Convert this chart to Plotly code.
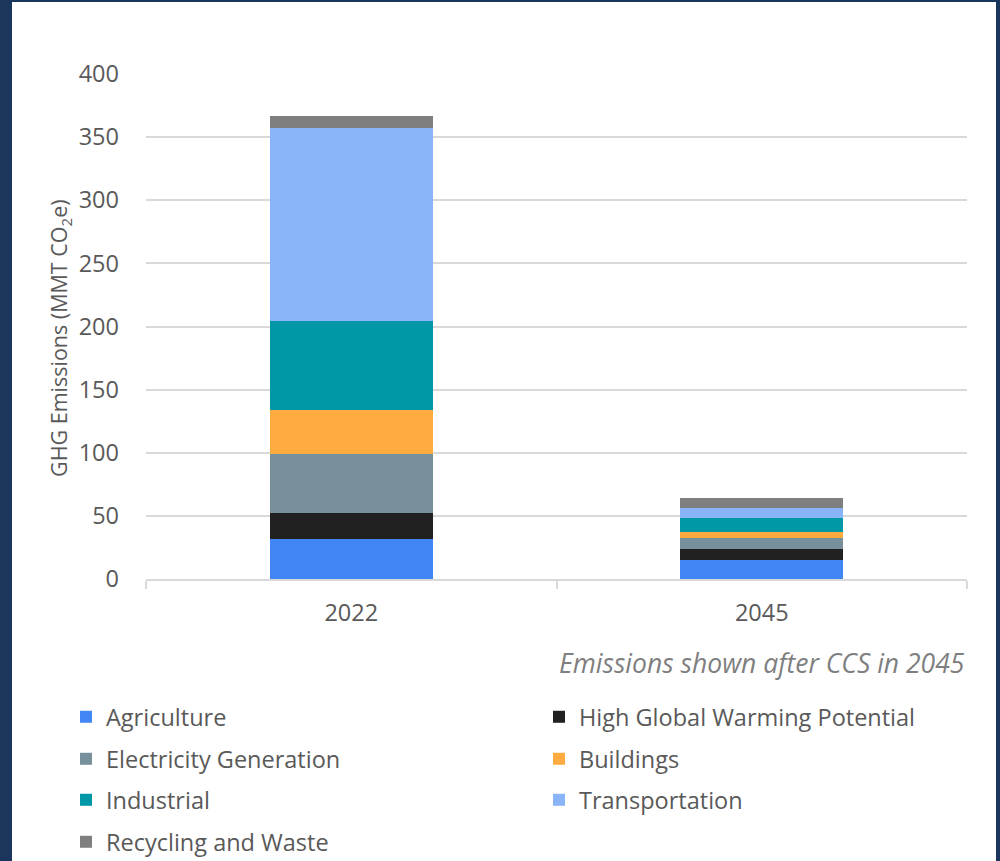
import plotly.graph_objects as go

categories = ["2022", "2045"]
agriculture = [32, 15]
high_gwp = [20, 8.8]
electricity = [47, 8.7]
buildings = [35, 4.5]
industrial = [70, 11.3]
transportation = [153, 8]
recycling = [10, 8.2]

series = [
    ("Agriculture", agriculture, "#4285F4"),
    ("High Global Warming Potential", high_gwp, "#212121"),
    ("Electricity Generation", electricity, "#78909C"),
    ("Buildings", buildings, "#FFAB40"),
    ("Industrial", industrial, "#0097A7"),
    ("Transportation", transportation, "#8AB4F8"),
    ("Recycling and Waste", recycling, "#7F7F7F"),
]

FONT = "Open Sans"
GREY = "#595959"

L, R, T, B = 146, 967, 74, 579
W, H = 1000, 861
pw, ph = R - L, B - T

def px(x):
    return (x - L) / pw

def py(y):
    return (B - y) / ph

def cy(y):
    return 1 - y / H

# legend grid: two columns, four rows (pixel positions of the legend boxes)
col_x = [66, 539]
row_y = [717, 759, 800, 842]

fig = go.Figure()
legends = {}
for i, (name, vals, color) in enumerate(series):
    key = "legend" if i == 0 else f"legend{i + 1}"
    fig.add_trace(go.Bar(x=categories, y=vals, name=name, showlegend=True,
                         marker=dict(color=color, line=dict(width=0)), legend=key))
    legends[key] = dict(xref="container", yref="container", xanchor="left", yanchor="middle",
                        x=col_x[i % 2] / W, y=cy(row_y[i // 2]), visible=True,
                        font=dict(family=FONT, size=23.5, color=GREY), bgcolor="rgba(0,0,0,0)",
                        borderwidth=0)

fig.update_layout(
    width=W, height=H,
    showlegend=True,
    margin=dict(l=L, r=W - R, t=T, b=H - B, pad=0, autoexpand=False),
    paper_bgcolor="#1b365d",
    plot_bgcolor="white",
    barmode="stack",
    bargap=0.603,
    font=dict(family=FONT, size=23, color=GREY),
    xaxis=dict(type="category", showline=True, linecolor="#d9d9d9", linewidth=1.5,
               ticks="outside", tickson="boundaries", ticklen=8, tickcolor="#d9d9d9", tickwidth=1.5,
               tickfont=dict(family=FONT, size=23.5, color=GREY), showgrid=False,
               ticklabelstandoff=12),
    yaxis=dict(range=[0, 400], dtick=50, showgrid=True, gridcolor="#d9d9d9", gridwidth=1.5,
               zeroline=False, showline=False, tickfont=dict(family=FONT, size=23.5, color=GREY),
               ticklabelstandoff=26),
    shapes=[dict(type="rect", xref="paper", yref="paper", x0=px(12), x1=px(996), y0=py(900), y1=py(2),
                 fillcolor="white", line=dict(width=0), layer="below")],
    annotations=[
        dict(text="GHG Emissions (MMT CO<sub>2</sub>e)", textangle=-90, xref="paper", yref="paper",
             x=px(60), y=py(338), xanchor="center", yanchor="middle", showarrow=False,
             font=dict(family=FONT, size=21.5, color=GREY)),
        dict(text="<i>Emissions shown after CCS in 2045</i>", xref="paper", yref="paper",
             x=1.0, y=py(663), xanchor="right", yanchor="middle", showarrow=False,
             font=dict(family=FONT, size=26.5, color="#7f7f7f")),
    ],
)
fig.update_layout(**legends)

fig.write_html("out.html", config={"displayModeBar": False},
               post_script="document.body.style.margin='0';")
